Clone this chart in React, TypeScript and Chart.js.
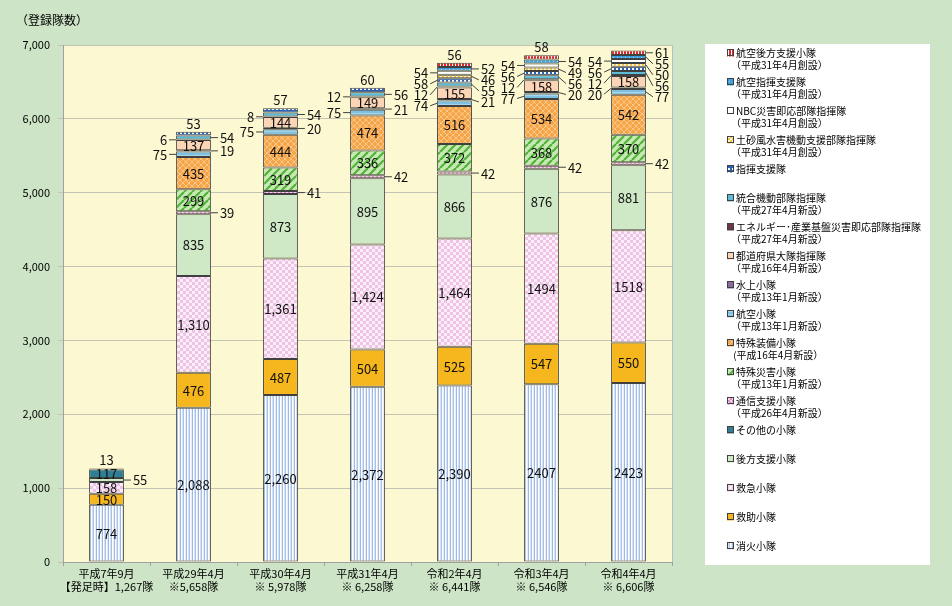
import React, { useEffect, useRef } from "react";
import { Chart, registerables } from "chart.js";

Chart.register(...registerables);

// ---- data ----
const periodLabels = ["平成7年9月", "平成29年4月", "平成30年4月", "平成31年4月", "令和2年4月", "令和3年4月", "令和4年4月"];
const unitCountLabels = ["【発足時】1,267隊", "※5,658隊", "※ 5,978隊", "※ 6,258隊", "※ 6,441隊", "※ 6,546隊", "※ 6,606隊"];
const yTicks = [0, 1000, 2000, 3000, 4000, 5000, 6000, 7000];

const shoka = [774, 2088, 2260, 2372, 2390, 2407, 2423];
const kyujo = [150, 476, 487, 504, 525, 547, 550];
const kyukyu = [158, 1310, 1361, 1424, 1464, 1494, 1518];
const kohoShien = [55, 835, 873, 895, 866, 876, 881];
const sonota = [117, null, null, null, null, null, null];
const tsushin = [null, 39, 41, 42, 42, 42, 42];
const tokusai = [null, 299, 319, 336, 372, 368, 370];
const tokuso = [null, 435, 444, 474, 516, 534, 542];
const koku = [null, 75, 75, 75, 74, 77, 77];
const suijo = [null, 19, 20, 21, 21, 20, 20];
const todofuken = [null, 137, 144, 149, 155, 158, 158];
const energy = [null, 6, 8, 12, 12, 12, 12];
const togo = [null, 54, 54, 56, 55, 56, 56];
const shikiShien = [13, 53, 57, 60, 58, 56, 56];
const dosha = [null, null, null, null, 46, 49, 50];
const nbc = [null, null, null, null, 54, 54, 54];
const kokuShiki = [null, null, null, null, 52, 54, 55];
const kokuKoho = [null, null, null, null, 56, 58, 61];

// ---- label placement (style) ----
const labelSide: Record<string, string[]> = {
  kohoShien: ["right", "in", "in", "in", "in", "in", "in"],
  tsushin: ["in", "right", "right", "right", "right", "right", "right"],
  koku: ["in", "left", "left", "left", "left", "left", "right"],
  suijo: ["in", "right", "right", "right", "right", "right", "left"],
  energy: ["in", "left", "left", "left", "left", "left", "left"],
  togo: ["in", "right", "right", "right", "right", "right", "right"],
  shikiShien: ["top", "top", "top", "top", "left", "left", "left"],
  dosha: ["in", "in", "in", "in", "right", "right", "right"],
  nbc: ["in", "in", "in", "in", "left", "left", "left"],
  kokuShiki: ["in", "in", "in", "in", "right", "right", "right"],
  kokuKoho: ["in", "in", "in", "in", "top", "top", "right"],
};
const useComma = [true, true, true, true, true, false, false];

const FONT = '"Noto Sans CJK JP", "Noto Sans", sans-serif';

function pat(w: number, h: number, draw: (c: CanvasRenderingContext2D) => void) {
  const cv = document.createElement("canvas");
  cv.width = w;
  cv.height = h;
  const c = cv.getContext("2d")!;
  draw(c);
  return c.createPattern(cv, "repeat")!;
}

function makeFills(): Record<string, any> {
  return {
    shoka: pat(6, 4, (c) => {
      const cols = ["#9db9e3", "#ffffff", "#d5e1f4", "#a9c2e8", "#ffffff", "#e6edf8"];
      cols.forEach((col, i) => { c.fillStyle = col; c.fillRect(i, 0, 1, 4); });
    }),
    kyujo: "#f5b61e",
    kyukyu: pat(6, 6, (c) => {
      c.fillStyle = "#fbeef8"; c.fillRect(0, 0, 6, 6);
      c.fillStyle = "#efc3e6"; c.fillRect(0, 0, 3, 3); c.fillRect(3, 3, 3, 3);
    }),
    kohoShien: "#cfe8c6",
    sonota: "#2f7e94",
    tsushin: pat(4, 4, (c) => {
      c.fillStyle = "#f6d6ee"; c.fillRect(0, 0, 4, 4);
      c.fillStyle = "#d98cc6"; c.fillRect(0, 0, 2, 2); c.fillRect(2, 2, 2, 2);
    }),
    tokusai: pat(8, 8, (c) => {
      c.fillStyle = "#c6eab2"; c.fillRect(0, 0, 8, 8);
      c.strokeStyle = "#52b33a"; c.lineWidth = 2.2;
      for (let k = -8; k <= 16; k += 8) { c.beginPath(); c.moveTo(k, 8); c.lineTo(k + 8, 0); c.stroke(); }
    }),
    tokuso: pat(6, 6, (c) => {
      c.fillStyle = "#f6a448"; c.fillRect(0, 0, 6, 6);
      c.strokeStyle = "#fbc88a"; c.lineWidth = 1;
      c.beginPath(); c.moveTo(0, 0); c.lineTo(6, 6); c.moveTo(6, 0); c.lineTo(0, 6); c.stroke();
    }),
    koku: pat(4, 3, (c) => {
      c.fillStyle = "#7cc0e2"; c.fillRect(0, 0, 4, 3);
      c.fillStyle = "#a6d6ee"; c.fillRect(0, 2, 4, 1);
    }),
    suijo: "#8c6aa4",
    todofuken: "#fcd4b6",
    energy: "#6b3848",
    togo: "#5cbcd9",
    shikiShien: pat(4, 4, (c) => {
      c.fillStyle = "#2a62b8"; c.fillRect(0, 0, 4, 4);
      c.fillStyle = "#ffffff"; c.fillRect(0, 0, 2, 2);
    }),
    dosha: pat(4, 4, (c) => {
      c.fillStyle = "#f4c542"; c.fillRect(0, 0, 4, 4);
      c.fillStyle = "#fff6d8"; c.fillRect(0, 0, 2, 2); c.fillRect(2, 2, 2, 2);
    }),
    nbc: "#ffffff",
    kokuShiki: pat(4, 4, (c) => {
      c.fillStyle = "#3aa0e0"; c.fillRect(0, 0, 4, 4);
      c.fillStyle = "#a8d8f4"; c.fillRect(1, 1, 1, 1);
    }),
    kokuKoho: pat(3, 3, (c) => {
      c.fillStyle = "#e02828"; c.fillRect(0, 0, 3, 3);
      c.fillStyle = "#ffffff"; c.fillRect(2, 0, 1, 3);
    }),
  };
}

// stacking order (bottom -> top)
const seriesList: { key: string; name: string; note: string; data: (number | null)[] }[] = [
  { key: "shoka", name: "消火小隊", note: "", data: shoka },
  { key: "kyujo", name: "救助小隊", note: "", data: kyujo },
  { key: "kyukyu", name: "救急小隊", note: "", data: kyukyu },
  { key: "kohoShien", name: "後方支援小隊", note: "", data: kohoShien },
  { key: "sonota", name: "その他の小隊", note: "", data: sonota },
  { key: "tsushin", name: "通信支援小隊", note: "（平成26年4月新設）", data: tsushin },
  { key: "tokusai", name: "特殊災害小隊", note: "（平成13年1月新設）", data: tokusai },
  { key: "tokuso", name: "特殊装備小隊", note: " (平成16年4月新設）", data: tokuso },
  { key: "koku", name: "航空小隊", note: "（平成13年1月新設）", data: koku },
  { key: "suijo", name: "水上小隊", note: "（平成13年1月新設）", data: suijo },
  { key: "todofuken", name: "都道府県大隊指揮隊", note: "（平成16年4月新設）", data: todofuken },
  { key: "energy", name: "エネルギー･産業基盤災害即応部隊指揮隊", note: "（平成27年4月新設）", data: energy },
  { key: "togo", name: "統合機動部隊指揮隊", note: "（平成27年4月新設）", data: togo },
  { key: "shikiShien", name: "指揮支援隊", note: "", data: shikiShien },
  { key: "dosha", name: "土砂風水害機動支援部隊指揮隊", note: "（平成31年4月創設）", data: dosha },
  { key: "nbc", name: "NBC災害即応部隊指揮隊", note: "（平成31年4月創設）", data: nbc },
  { key: "kokuShiki", name: "航空指揮支援隊", note: "（平成31年4月創設）", data: kokuShiki },
  { key: "kokuKoho", name: "航空後方支援小隊", note: "（平成31年4月創設）", data: kokuKoho },
];

function fmt(v: number, j: number) {
  return useComma[j] ? v.toLocaleString("en-US") : String(v);
}

const bgPlugin = {
  id: "bgPlugin",
  beforeDraw(chart: any) {
    const { ctx, chartArea: a } = chart;
    ctx.save();
    ctx.fillStyle = "#cde5c6";
    ctx.fillRect(0, 0, chart.width, chart.height);
    ctx.fillStyle = "#fcf9d2";
    ctx.fillRect(a.left, a.top, a.right - a.left, a.bottom - a.top);
    ctx.strokeStyle = "#b4c0c8";
    ctx.lineWidth = 1;
    ctx.strokeRect(a.left + 0.5, a.top + 0.5, a.right - a.left, a.bottom - a.top);
    ctx.fillStyle = "#000";
    ctx.font = `12px ${FONT}`;
    ctx.textBaseline = "middle";
    ctx.textAlign = "left";
    ctx.fillText("（登録隊数）", 16, 20);
    ctx.restore();
  },
};

const labelPlugin = {
  id: "labelPlugin",
  afterDatasetsDraw(chart: any) {
    const ctx = chart.ctx;
    const GAP = 11;
    ctx.save();
    ctx.font = `13px ${FONT}`;
    ctx.fillStyle = "#111";
    ctx.strokeStyle = "#404040";
    ctx.lineWidth = 1;
    ctx.textBaseline = "middle";
    const n = chart.data.labels.length;
    for (let j = 0; j < n; j++) {
      const lefts: any[] = [];
      const rights: any[] = [];
      chart.data.datasets.forEach((ds: any, i: number) => {
        const v = ds.data[j];
        if (v == null) return;
        const el = chart.getDatasetMeta(i).data[j];
        const { x, y, base, width } = el.getProps(["x", "y", "base", "width"], true);
        const cy = (y + base) / 2;
        const side = (labelSide[ds.key] && labelSide[ds.key][j]) || "in";
        const txt = fmt(v, j);
        if (side === "in") {
          ctx.textAlign = "center";
          ctx.fillText(txt, x, cy + 0.5);
        } else if (side === "top") {
          ctx.textAlign = "center";
          ctx.fillText(txt, x, Math.min(y, base) - 8);
        } else if (side === "left") {
          lefts.push({ cy, txt, edge: x - width / 2 });
        } else {
          rights.push({ cy, txt, edge: x + width / 2 });
        }
      });
      const place = (arr: any[], dir: number) => {
        arr.sort((a, b) => a.cy - b.cy);
        let prev = -1e9;
        arr.forEach((it) => {
          const ly = Math.max(it.cy, prev + GAP);
          prev = ly;
          ctx.beginPath();
          ctx.moveTo(it.edge, it.cy);
          ctx.lineTo(it.edge + dir * 7, ly);
          ctx.stroke();
          ctx.textAlign = dir > 0 ? "left" : "right";
          ctx.fillText(it.txt, it.edge + dir * 9, ly + 0.5);
        });
      };
      place(lefts, -1);
      place(rights, 1);
    }
    ctx.restore();
  },
};

const legendPlugin = {
  id: "legendPlugin",
  afterDraw(chart: any) {
    const ctx = chart.ctx;
    ctx.save();
    ctx.fillStyle = "#ffffff";
    ctx.fillRect(705, 44, 225, 521);
    ctx.font = `10px ${FONT}`;
    ctx.textBaseline = "middle";
    ctx.textAlign = "left";
    const ds = chart.data.datasets.slice().reverse();
    ds.forEach((d: any, k: number) => {
      const y = 53 + k * 29;
      ctx.fillStyle = d.backgroundColor;
      ctx.fillRect(727, y - 3.5, 7, 7);
      ctx.strokeStyle = "#404040";
      ctx.lineWidth = 1;
      ctx.strokeRect(727.5, y - 3.5, 6, 6);
      ctx.fillStyle = "#000";
      ctx.fillText(d.label, 736, y);
      if (d.note) ctx.fillText(d.note, 731, y + 12);
    });
    ctx.restore();
  },
};

export default function App() {
  const ref = useRef<HTMLCanvasElement>(null);
  useEffect(() => {
    const fills = makeFills();
    const chart = new Chart(ref.current!, {
      type: "bar",
      data: {
        labels: periodLabels.map((p, i) => [p, unitCountLabels[i]]),
        datasets: seriesList.map((s) => ({
          key: s.key,
          label: s.name,
          note: s.note,
          data: s.data,
          backgroundColor: fills[s.key],
          borderColor: "#404040",
          borderWidth: 1,
          borderSkipped: false,
          barPercentage: 0.4,
          categoryPercentage: 1,
        })) as any,
      },
      options: {
        responsive: false,
        animation: false,
        devicePixelRatio: 1,
        layout: { padding: { left: 0, right: 280, top: 45, bottom: 0 } },
        plugins: { legend: { display: false }, tooltip: { enabled: false } },
        scales: {
          x: {
            stacked: true,
            grid: { display: true, drawOnChartArea: false, drawTicks: true, tickLength: 4, color: "#a0a0a0", offset: true },
            border: { display: true, color: "#a0a0a0" },
            ticks: { color: "#000", font: { family: FONT, size: 11 }, padding: 1, maxRotation: 0, autoSkip: false },
            afterFit: (s: any) => { s.height = 44; },
          },
          y: {
            stacked: true,
            min: 0,
            max: 7000,
            afterBuildTicks: (s: any) => { s.ticks = yTicks.map((v) => ({ value: v })); },
            ticks: {
              color: "#000",
              font: { family: FONT, size: 11 },
              padding: 8,
              callback: (v: any) => Number(v).toLocaleString("en-US"),
            },
            grid: { color: "#c4c4b4", tickLength: 5 },
            border: { display: true, color: "#a0a0a0" },
            afterFit: (s: any) => { s.width = 63; },
          },
        },
      },
      plugins: [bgPlugin, labelPlugin, legendPlugin],
    } as any);
    return () => chart.destroy();
  }, []);
  return (
    <div style={{ position: "absolute", left: 0, top: 0, width: 952, height: 606 }}>
      <canvas ref={ref} width={952} height={606} style={{ display: "block" }} />
    </div>
  );
}
